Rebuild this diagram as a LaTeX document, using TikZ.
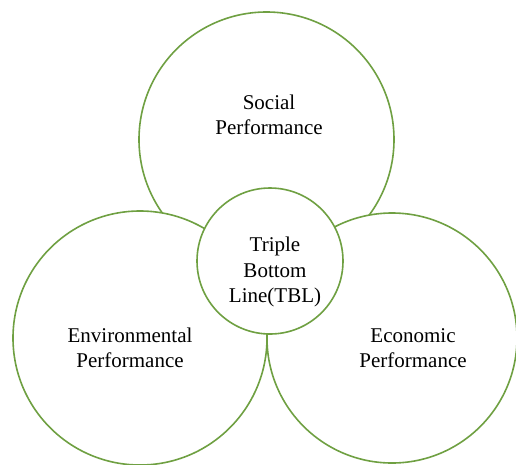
\documentclass[tikz,border=0pt]{standalone}
\usepackage{fontspec}
\setmainfont{Liberation Serif}
\usepackage{tikz}
\usetikzlibrary{positioning}
\definecolor{leaf}{HTML}{6FA042}

\tikzset{
    ring/.style={circle, draw=leaf, line width=1.6pt, fill=white, inner sep=0pt},
    txt/.style={align=center, font=\fontsize{21}{25.5}\selectfont, text=black}
}

\begin{document}
\begin{tikzpicture}[x=1pt, y=-1pt]
    \useasboundingbox (0,0) rectangle (516,464);

    % the three pillars, then the hub on top
    \node[ring, minimum size=255pt] (social) at (266.5,139.5) {};
    \node[ring, minimum size=254pt] (env) at (140,338) {};
    \node[ring, minimum size=250pt] (eco) at (392,338) {};
    \node[ring, minimum size=146pt] (tbl) at (270,261) {};

    \node[txt] (socialtxt) at (269,115) {Social\\Performance};
    \node[txt] (envtxt) at (130,348) {Environmental\\Performance};
    \node[txt] (ecotxt) at (413,348) {Economic\\Performance};
    \node[txt] (tbltxt) at (275,272) {Triple\\Bottom\\Line(TBL)};
\end{tikzpicture}
\end{document}
